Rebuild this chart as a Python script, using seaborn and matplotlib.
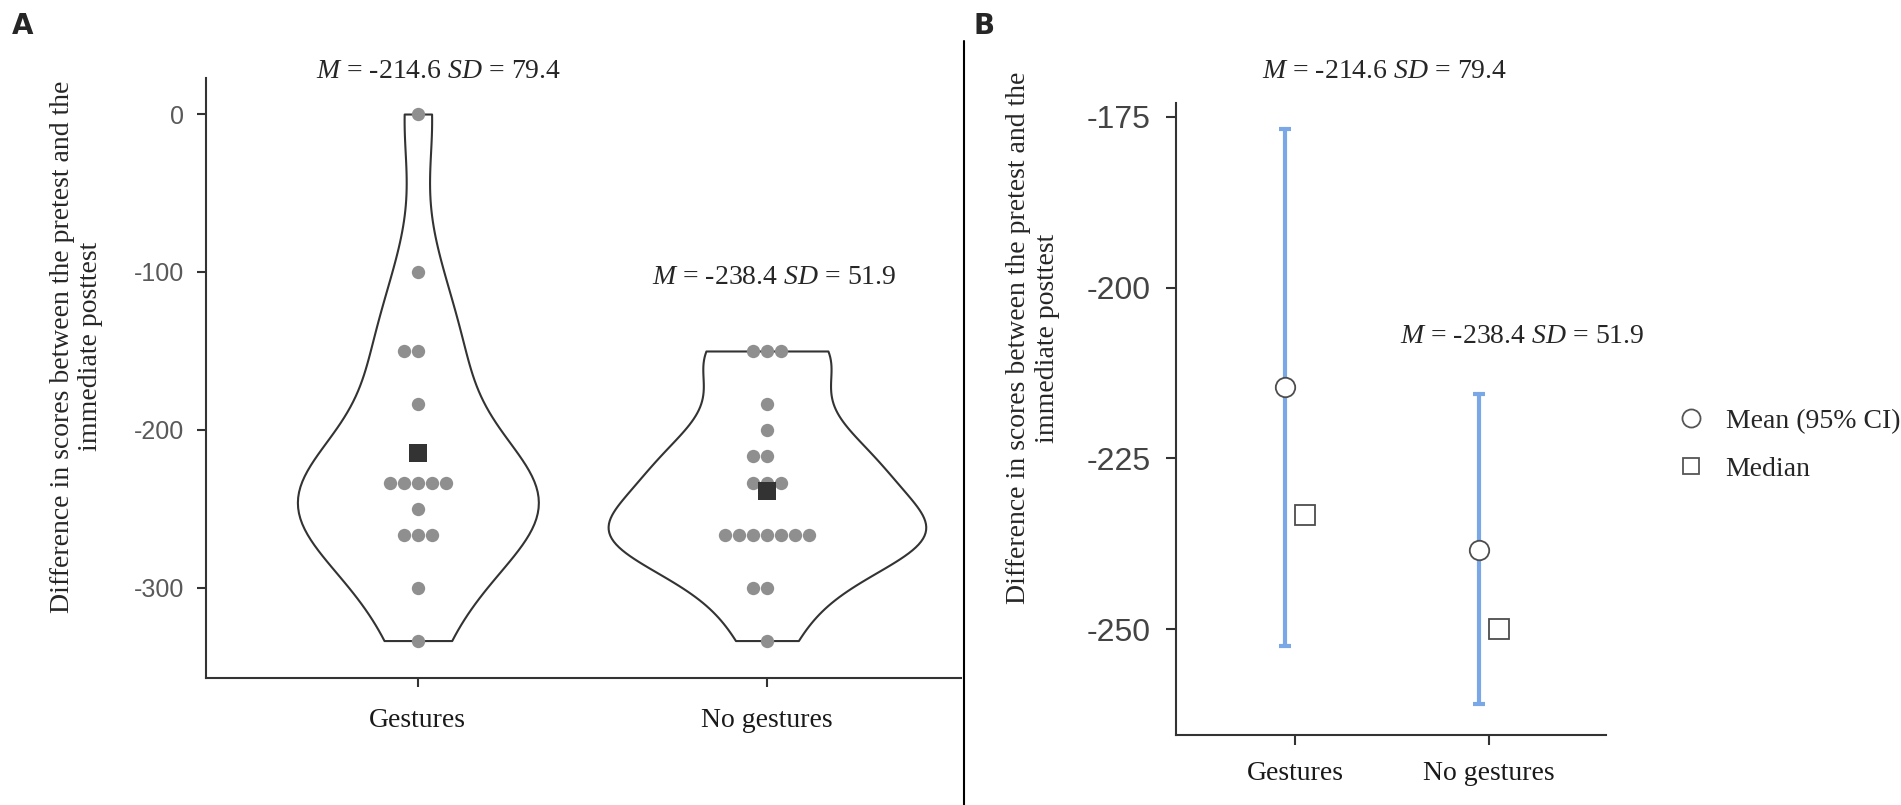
import numpy as np
import pandas as pd
import seaborn as sns
import matplotlib.pyplot as plt
from matplotlib.lines import Line2D

# difference scores (immediate posttest - pretest) per participant
gestures = [0, -100, -150, -150, -183.3, -233.3, -233.3, -233.3, -233.3, -233.3,
            -250, -266.7, -266.7, -266.7, -300, -333.3]
no_gestures = [-150, -150, -150, -183.3, -200, -216.7, -216.7, -233.3, -233.3,
               -233.3, -266.7, -266.7, -266.7, -266.7, -266.7, -266.7, -266.7,
               -300, -300, -333.3]
groups = ["Gestures", "No gestures"]

# 95% CI of the mean
ci_low = [-252.4, -261.0]
ci_high = [-176.8, -215.6]

stat_labels = [r"$M$ = -214.6 $SD$ = 79.4", r"$M$ = -238.4 $SD$ = 51.9"]
ylab = "Difference in scores between the pretest and the\nimmediate posttest"

df = pd.DataFrame({
    "group": ["Gestures"] * len(gestures) + ["No gestures"] * len(no_gestures),
    "score": gestures + no_gestures,
})

sns.set_style("ticks")
plt.rcParams["font.family"] = ["Liberation Serif", "DejaVu Serif"]
plt.rcParams["mathtext.fontset"] = "custom"
plt.rcParams["mathtext.it"] = "Liberation Serif:italic"
plt.rcParams["mathtext.rm"] = "Liberation Serif"
plt.rcParams["axes.unicode_minus"] = False
plt.rcParams["axes.edgecolor"] = "#333333"
plt.rcParams["axes.linewidth"] = 1.5

W, H = 1901, 805
fig = plt.figure(figsize=(W / 100, H / 100), dpi=100)
ax1 = fig.add_axes([206 / W, 1 - 678 / H, (961 - 206) / W, (678 - 78) / H])
ax2 = fig.add_axes([1176 / W, 1 - 735 / H, (1606 - 1176) / W, (735 - 103) / H])

# PANEL A: violin + dots + mean square
sns.violinplot(data=df, x="group", y="score", order=groups, cut=0, inner=None,
               color="white", saturation=1, linecolor="#333333", linewidth=1.5,
               width=0.91, bw_adjust=0.8, ax=ax1)
sns.swarmplot(data=df, x="group", y="score", order=groups, color="#8f8f8f",
              size=9.6, ax=ax1, zorder=3)
sns.pointplot(data=df, x="group", y="score", order=groups, estimator="mean",
              errorbar=None, linestyle="none", markers="s", color="#333333",
              markersize=13, markeredgewidth=0, ax=ax1, zorder=4)

ax1.set_xlim(-0.607, 1.556)
ax1.set_ylim(-357, 22.8)
ax1.set_yticks([0, -100, -200, -300])
ax1.set_xlabel("")
ax1.set_ylabel(ylab, fontsize=20)
ax1.yaxis.set_label_coords(-0.136, 0.552)
ax1.tick_params(axis="y", labelsize=18, labelcolor="#595959", length=6.5,
                width=1.5, color="#333333", pad=9)
ax1.tick_params(axis="x", labelsize=20, labelcolor="#1a1a1a", length=6.5,
                width=1.5, color="#333333", pad=15)
for lbl in ax1.get_yticklabels():
    lbl.set_fontfamily("Liberation Sans")
sns.despine(ax=ax1)

ax1.text(0.06, 26.6, stat_labels[0], ha="center", va="center", fontsize=20,
         clip_on=False)
ax1.text(1.02, -103.2, stat_labels[1], ha="center", va="center", fontsize=20)

# PANEL B: mean with 95% CI and median
summary = df.groupby("group")["score"].agg(["mean", "median"]).reindex(groups)
means = summary["mean"].to_numpy()
medians = summary["median"].to_numpy()
stat_df = pd.DataFrame({
    "group": groups * 2,
    "stat": ["Mean (95% CI)"] * 2 + ["Median"] * 2,
    "value": list(means) + list(medians),
})

ax2.errorbar(np.arange(len(groups)) - 0.05, means,
             yerr=[means - np.array(ci_low), np.array(ci_high) - means],
             fmt="none", ecolor="#7aa7e6", elinewidth=3, capsize=4, capthick=3,
             zorder=2)
sns.pointplot(data=stat_df, x="group", y="value", hue="stat", order=groups,
              hue_order=["Mean (95% CI)", "Median"], dodge=0.1,
              markers=["o", "s"], linestyle="none",
              palette=["#4d4d4d", "#4d4d4d"], markerfacecolor="white",
              markersize=14, markeredgewidth=1.3, errorbar=None,
              legend=False, ax=ax2, zorder=5)

ax2.set_xlim(-0.613, 1.603)
ax2.set_ylim(-265.5, -172.95)
ax2.set_yticks([-175, -200, -225, -250])
ax2.set_xlabel("")
ax2.set_ylabel(ylab, fontsize=20)
ax2.yaxis.set_label_coords(-0.27, 0.628)
ax2.tick_params(axis="y", labelsize=23, labelcolor="#444444", length=7,
                width=1.5, color="#333333", pad=11)
ax2.tick_params(axis="x", labelsize=20, labelcolor="#1a1a1a", length=7,
                width=1.5, color="#333333", pad=12)
for lbl in ax2.get_yticklabels():
    lbl.set_fontfamily("Liberation Sans")
sns.despine(ax=ax2)

ax2.text(0.464, -168.4, stat_labels[0], ha="center", va="center", fontsize=20,
         clip_on=False)
ax2.text(1.17, -207.2, stat_labels[1], ha="center", va="center", fontsize=20)

handles = [
    Line2D([], [], marker="o", linestyle="none", markersize=13,
           markerfacecolor="white", markeredgecolor="#555555", markeredgewidth=1.3),
    Line2D([], [], marker="s", linestyle="none", markersize=12,
           markerfacecolor="white", markeredgecolor="#555555", markeredgewidth=1.3),
]
fig.legend(handles, ["Mean (95% CI)", "Median"], loc="center left",
           bbox_to_anchor=(1677 / W, 1 - 445 / H), frameon=False, fontsize=20,
           borderpad=0, borderaxespad=0, handlelength=1.0, handletextpad=0.75,
           labelspacing=0.8)

# panel letters and divider
fig.text(12 / W, 1 - 12 / H, "A", fontsize=20, fontweight="heavy",
         family="DejaVu Sans", ha="left", va="top")
fig.text(973 / W, 1 - 12 / H, "B", fontsize=20, fontweight="heavy",
         family="DejaVu Sans", ha="left", va="top")
fig.add_artist(Line2D([964 / W, 964 / W], [0, 1 - 41 / H],
                      transform=fig.transFigure, color="black", lw=1.5))

fig.savefig("out.png", dpi=100)
